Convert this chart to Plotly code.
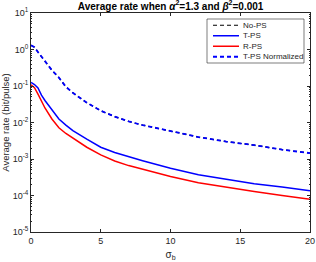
import plotly.graph_objects as go

sigma_b = [0, 0.25, 0.5, 0.75, 1, 1.5, 2, 2.5, 3, 4, 5, 6, 7, 8, 10, 12, 14, 16, 18, 20]
no_ps = [1.3, 1.15, 0.85, 0.62, 0.48, 0.27, 0.17, 0.095, 0.065, 0.035, 0.021, 0.0145,
         0.0107, 0.0085, 0.0058, 0.0040, 0.0030, 0.0024, 0.0018, 0.00145]
t_ps = [0.125, 0.11, 0.088, 0.056, 0.04, 0.022, 0.0125, 0.0085, 0.006, 0.0035, 0.0021,
        0.0015, 0.00115, 0.0009, 0.00056, 0.00037, 0.00028, 0.00021, 0.00017, 0.000135]
r_ps = [0.108, 0.09, 0.06, 0.037, 0.025, 0.0125, 0.0072, 0.005, 0.0038, 0.0021, 0.0013,
        0.00088, 0.00066, 0.00052, 0.00033, 0.000225, 0.000168, 0.000128, 0.0001, 0.000079]
t_ps_norm = no_ps

series_names = ["No-PS", "T-PS", "R-PS", "T-PS Normalized"]
series_colors = ["black", "#0000ff", "#ff0000", "#0000ff"]
series_dash = ["4px,3px", "solid", "solid", "4px,3px"]
series_width = [1.2, 1.5, 1.5, 1.8]
series_values = [no_ps, t_ps, r_ps, t_ps_norm]

y_tickvals = [1e-5, 1e-4, 1e-3, 1e-2, 1e-1, 1, 10]
y_ticktext = ["10<sup>-5</sup>", "10<sup>-4</sup>", "10<sup>-3</sup>", "10<sup>-2</sup>",
              "10<sup>-1</sup>", "10<sup>0</sup>", "10<sup>1</sup>"]
x_tickvals = [0, 5, 10, 15, 20]

font = "Liberation Sans, Arial, sans-serif"
ink = "#262626"
fig = go.Figure()
for name, vals, col, dsh, w in zip(series_names, series_values, series_colors,
                                   series_dash, series_width):
    fig.add_trace(go.Scatter(x=sigma_b, y=vals, name=name, mode="lines",
                             showlegend=False,
                             line=dict(color=col, width=w, dash=dsh)))

axis_common = dict(showgrid=False, zeroline=False, showline=True, linecolor=ink,
                   linewidth=0.8, mirror="ticks", ticks="inside", ticklen=3,
                   tickcolor=ink, automargin=False,
                   tickfont=dict(size=9, color=ink, family=font))

fig.update_xaxes(range=[0, 20], tickvals=x_tickvals, **axis_common,
                 title=dict(text="σ<sub>b</sub>", font=dict(size=10, color=ink),
                            standoff=6))
fig.update_yaxes(type="log", range=[-5, 1], tickvals=y_tickvals, ticktext=y_ticktext,
                 **axis_common,
                 minor=dict(ticks="inside", ticklen=1.5, tickcolor=ink, dtick="D1"),
                 title=dict(text="Average rate (bit/pulse)",
                            font=dict(size=9.5, color=ink), standoff=2))

# manual compact legend (MATLAB style)
L = 31; R = 310; T = 13; B = 232
pw = R - L; ph = B - T
def px(x): return (x - L) / pw
def py(y): return (B - y) / ph

fig.add_shape(type="rect", xref="paper", yref="paper",
              x0=px(207), x1=px(304), y0=py(63), y1=py(19),
              line=dict(color=ink, width=0.6), fillcolor="white", layer="above")
row_y = [25.25, 35.75, 46.25, 56.75]
for name, col, dsh, w, ry in zip(series_names, series_colors, series_dash,
                                 series_width, row_y):
    fig.add_shape(type="line", xref="paper", yref="paper",
                  x0=px(213), x1=px(239), y0=py(ry), y1=py(ry),
                  line=dict(color=col, width=w, dash=dsh), layer="above")
    fig.add_annotation(text=name, xref="paper", yref="paper", x=px(241), y=py(ry),
                       xanchor="left", yanchor="middle", showarrow=False,
                       font=dict(size=8, color=ink, family=font))

fig.update_layout(
    width=316, height=262,
    margin=dict(l=L, r=316 - R, t=T, b=262 - B),
    paper_bgcolor="white", plot_bgcolor="white",
    font=dict(family=font, color=ink),
    title=dict(text="<b>Average rate when <i>α</i><sup>2</sup>=1.3 and <i>β</i><sup>2</sup>=0.001</b>",
               x=0.54, xanchor="center", y=0.99, yanchor="top",
               font=dict(size=10, color="black")),
    showlegend=False,
)

fig.write_html("out.html", config={"displayModeBar": False},
               post_script="document.body.style.margin='0';document.body.style.overflow='hidden';")
